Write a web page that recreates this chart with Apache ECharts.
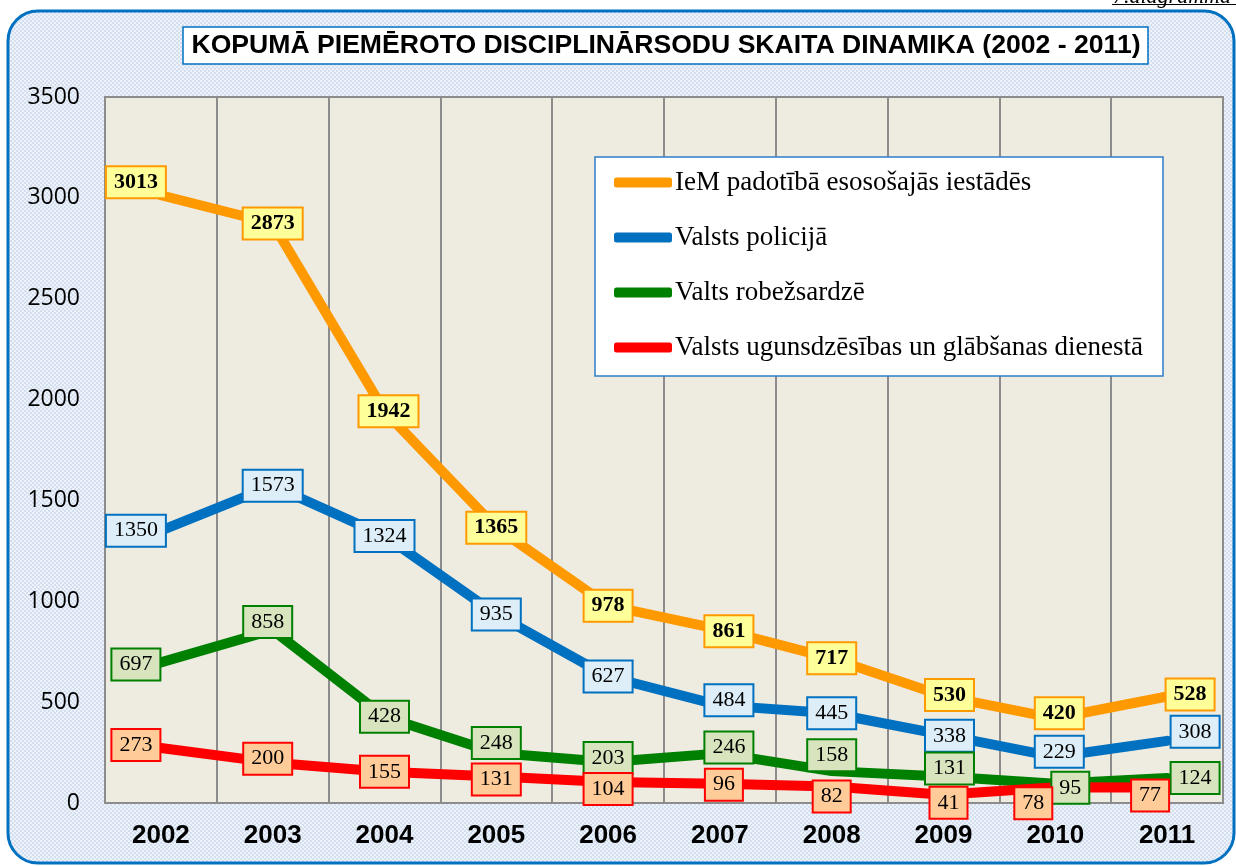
<!DOCTYPE html>
<html>
<head>
<meta charset="utf-8">
<script src="https://cdn.jsdelivr.net/npm/echarts@6/dist/echarts.min.js"></script>
<style>
  html, body { margin: 0; padding: 0; background: #fff; }
  #chart { width: 1236px; height: 866px; }
</style>
</head>
<body>
<div id="chart"></div>
<script>
// dati
var years = ['2002', '2003', '2004', '2005', '2006', '2007', '2008', '2009', '2010', '2011'];
var iem = [3013, 2873, 1942, 1365, 978, 861, 717, 530, 420, 528];
var policija = [1350, 1573, 1324, 935, 627, 484, 445, 338, 229, 308];
var robezsardze = [697, 858, 428, 248, 203, 246, 158, 131, 95, 124];
var ugunsdzesiba = [273, 200, 155, 131, 104, 96, 82, 41, 78, 77];
var seriesNames = [
  'IeM padotībā esosošajās iestādēs',
  'Valsts policijā',
  'Valts robežsardzē',
  'Valsts ugunsdzēsības un glābšanas dienestā'
];
var yTicks = [0, 500, 1000, 1500, 2000, 2500, 3000, 3500];

// etiķešu nobīdes (px), lai tās būtu kā oriģinālā
var shifts = [
  [[-25, -13], [0, 0], [4, 0], [0, 0], [0, 0], [9, 2], [0, 0], [6, -1], [4, -5], [23, -2]],
  [[-25, 0], [0, 0], [0, 0], [0, 0], [0, 0], [9, -5], [0, 0], [6, 1], [4, -5], [28, -9]],
  [[-25, 2], [-5, -8], [0, 0], [0, -10], [0, -4], [9, -6], [0, -16], [6, -8], [15, 4], [28, 0]],
  [[-25, -3], [-5, -4], [0, 0], [0, 3], [0, 7], [4, 1], [0, 10], [5, 8], [-22, 16], [-17, 8]]
];

// fona raksts
var pat = document.createElement('canvas');
pat.width = 4; pat.height = 4;
var pc = pat.getContext('2d');
pc.fillStyle = '#d3dff0';
pc.fillRect(0, 0, 4, 4);
pc.fillStyle = '#eef3fa';
pc.fillRect(0, 0, 2, 2);
pc.fillRect(2, 2, 2, 2);

var colors = ['#ff9900', '#0070c0', '#008000', '#ff0000'];
var labelBg = ['#ffff99', '#ddeef8', '#d7e4bd', '#ffcc99'];
var values = [iem, policija, robezsardze, ugunsdzesiba];

function makeSeries(i) {
  return {
    name: seriesNames[i],
    type: 'line',
    data: values[i].map(function (v, k) {
      return {
        value: v,
        label: { offset: shifts[i][k] }
      };
    }),
    symbol: 'circle',
    symbolSize: 1,
    lineStyle: { width: 10, color: colors[i], cap: 'round', join: 'round' },
    itemStyle: { color: colors[i] },
    label: {
      show: true,
      position: 'inside',
      fontFamily: 'Liberation Serif',
      fontSize: 22,
      lineHeight: 24,
      fontWeight: i === 0 ? 'bold' : 'normal',
      color: '#000',
      backgroundColor: labelBg[i],
      borderColor: colors[i],
      borderWidth: 2,
      padding: [4, 7, 2, 7]
    },
    emphasis: { disabled: true },
    animation: false
  };
}

var chart = echarts.init(document.getElementById('chart'));
chart.setOption({
  animation: false,
  color: colors,
  graphic: [
    {
      type: 'rect', z: -10,
      shape: { x: 8, y: 11, width: 1226, height: 852, r: 30 },
      style: { fill: { image: pat, repeat: 'repeat' }, stroke: '#0070c0', lineWidth: 3 }
    },
    {
      type: 'text', z: 10,
      style: { x: 1113, y: 8, text: '7.diagramma', font: 'italic 22px "Liberation Serif"', fill: '#000', textVerticalAlign: 'bottom' }
    },
    {
      type: 'line', z: 10,
      shape: { x1: 1112, y1: 4.5, x2: 1236, y2: 4.5 },
      style: { stroke: '#000', lineWidth: 1 }
    },
    {
      type: 'rect', z: 10,
      shape: { x: 183, y: 27, width: 965, height: 37 },
      style: { fill: '#fff', stroke: '#0070c0', lineWidth: 1.5 }
    },
    {
      type: 'text', z: 11,
      style: {
        x: 666, y: 46,
        text: 'KOPUMĀ PIEMĒROTO DISCIPLINĀRSODU SKAITA DINAMIKA (2002 - 2011)',
        font: 'bold 26.6px "Liberation Sans"', fill: '#000',
        textAlign: 'center', textVerticalAlign: 'middle'
      }
    },
    {
      type: 'rect', z: 10,
      shape: { x: 595, y: 157, width: 568, height: 219 },
      style: { fill: '#fff', stroke: '#2e7dc6', lineWidth: 1.5 }
    }
  ],
  legend: {
    orient: 'vertical',
    left: 614,
    top: 169,
    padding: 0,
    z: 12,
    itemWidth: 58,
    itemHeight: 10,
    itemGap: 28,
    icon: 'roundRect',
    textStyle: { fontFamily: 'Liberation Serif', fontSize: 27, lineHeight: 27, color: '#000', padding: [0, 0, 0, -2] },
    data: seriesNames
  },
  grid: {
    left: 105, right: 13, top: 97, bottom: 63,
    show: true,
    backgroundColor: '#eeece1',
    borderColor: '#8c8c8c',
    borderWidth: 2
  },
  xAxis: {
    type: 'category',
    data: years,
    boundaryGap: true,
    axisLine: { lineStyle: { color: '#8c8c8c', width: 2 } },
    axisTick: { show: false },
    splitLine: { show: true, interval: 0, lineStyle: { color: '#8c8c8c', width: 2 } },
    axisLabel: { margin: 20, interval: 0, fontFamily: 'Liberation Sans', fontWeight: 'bold', fontSize: 26, color: '#000' }
  },
  yAxis: {
    type: 'value',
    min: yTicks[0],
    max: yTicks[yTicks.length - 1],
    interval: 500,
    axisLine: { show: false },
    axisTick: { show: false },
    splitLine: { show: false },
    axisLabel: {
      margin: 25, fontFamily: 'Open Sans', fontSize: 23, color: '#000',
      formatter: function (v) { return String(v); }
    }
  },
  series: [0, 1, 2, 3].map(makeSeries)
});
</script>
</body>
</html>
